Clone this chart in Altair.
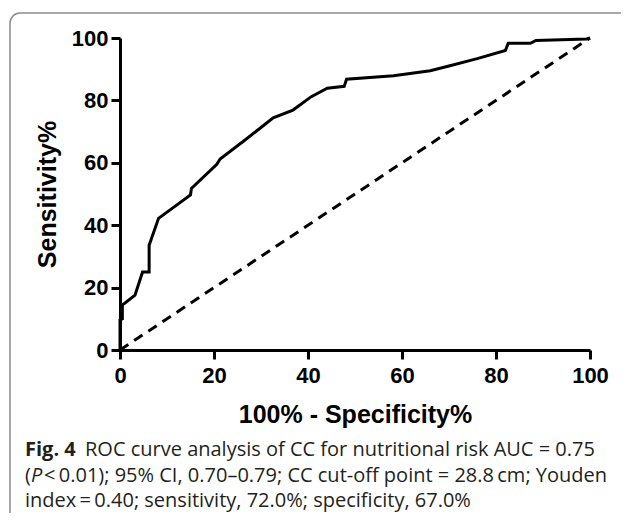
import altair as alt
import pandas as pd

# ROC curve points (100% - specificity, sensitivity)
fpr = [0, 0, 0.5, 0.5, 1, 3.2, 4.8, 6.2, 6.2, 8.2, 15, 15.2, 20.6, 21.3, 26.6, 32.6,
       36.8, 40.7, 44.1, 47.7, 48.2, 55.3, 58.2, 66, 70.2, 76, 82, 82.6, 87.3, 88.5,
       99.3, 100]
tpr = [0, 9.6, 10, 14.5, 15, 17.6, 25, 25, 33.6, 42.2, 49.7, 51.8, 59.5, 61.2, 67.3,
       74.4, 76.9, 81.2, 83.9, 84.5, 86.8, 87.6, 87.9, 89.5, 91.1, 93.4, 96, 98.3,
       98.3, 99.2, 99.7, 100]
diag = [0, 100]
ticks = [0, 20, 40, 60, 80, 100]

x_title = "100% - Specificity%"
y_title = "Sensitivity%"
cap_bold = "Fig. 4"
cap_line1 = "ROC curve analysis of CC for nutritional risk AUC = 0.75"
cap_l2_open = "("
cap_l2_p = "P"
cap_line2 = "<\u20090.01); 95% CI, 0.70\u20130.79; CC cut-off point = 28.8\u2009cm; Youden"
cap_line3 = "index\u2009=\u20090.40; sensitivity, 72.0%; specificity, 67.0%"

W, H = 470, 312

roc_df = pd.DataFrame({"fpr": fpr, "tpr": tpr, "order": list(range(len(fpr)))})
diag_df = pd.DataFrame({"fpr": diag, "tpr": diag})
one = pd.DataFrame({"a": [0]})

xs = alt.Scale(domain=[0, 100], nice=False)
ys = alt.Scale(domain=[0, 100], nice=False)

axis_common = dict(
    values=ticks, grid=False, domainColor="black", domainWidth=3,
    tickColor="black", tickWidth=3, tickSize=9, labelFlush=False,
    labelFont="Liberation Sans", labelFontWeight="bold", labelFontSize=22,
    labelColor="black", titleFont="Liberation Sans", titleFontWeight="bold",
    titleFontSize=25, titleColor="black",
)

frame = alt.Chart(one).mark_rect(
    filled=False, stroke="#8c8c8c", strokeWidth=1.5, cornerRadius=10
).encode(
    x=alt.value(-110), x2=alt.value(512), y=alt.value(-25), y2=alt.value(500)
)

diag_line = alt.Chart(diag_df).mark_line(
    color="black", strokeWidth=3, strokeDash=[10, 7]
).encode(
    x=alt.X("fpr:Q", scale=xs,
            axis=alt.Axis(title=x_title, labelPadding=6, titleY=72,
                          titleBaseline="alphabetic", **axis_common)),
    y=alt.Y("tpr:Q", scale=ys,
            axis=alt.Axis(title=y_title, labelPadding=3, titleX=-73, titleY=H / 2,
                          titleBaseline="middle", titleAngle=270, **axis_common)),
)

roc_line = alt.Chart(roc_df).mark_line(
    color="black", strokeWidth=3, strokeJoin="miter"
).encode(
    x=alt.X("fpr:Q", scale=xs),
    y=alt.Y("tpr:Q", scale=ys),
    order="order:Q",
)

cap_font = "Open Sans"
cap_size = 20
cap_color = "#231f20"


def cap(text, x, y, weight="normal", style="normal"):
    return alt.Chart(one).mark_text(
        font=cap_font, fontSize=cap_size, fontWeight=weight, fontStyle=style,
        color=cap_color, align="left", baseline="alphabetic",
    ).encode(x=alt.value(x), y=alt.value(y), text=alt.value(text))


captions = [
    cap(cap_bold, -95, 418, weight="bold"),
    cap(cap_line1, -35, 418),
    cap(cap_l2_open, -95, 444),
    cap(cap_l2_p, -89, 444, style="italic"),
    cap(cap_line2, -76, 444),
    cap(cap_line3, -95, 469),
]

chart = alt.layer(frame, diag_line, roc_line, *captions).properties(
    width=W, height=H,
    autosize=alt.AutoSizeParams(type="none"),
    padding={"left": 112, "top": 30, "right": 31, "bottom": 163},
).configure_view(stroke=None)

chart.save("out.html", embed_options={"renderer": "svg", "actions": False})
